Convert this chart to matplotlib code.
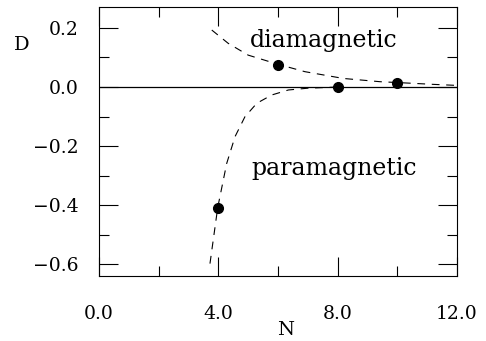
import numpy as np
import matplotlib
matplotlib.use("Agg")
import matplotlib.pyplot as plt
from matplotlib.ticker import MultipleLocator, FixedLocator

plt.rcParams['font.family'] = ['DejaVu Serif']

# measured points
n_pts = [4, 6, 8, 10]
d_pts = [-0.41, 0.076, 0.0, 0.015]

# dashed guide curves
dia_n = [3.78, 4.33, 5.0, 6.0, 6.9, 8.19, 9.42, 10.03, 11.2, 11.87, 12.0]
dia_d = [0.193, 0.148, 0.108, 0.077, 0.052, 0.029, 0.018, 0.015, 0.009, 0.006, 0.005]
para_n = [3.72, 3.98, 4.28, 4.56, 4.89, 5.29, 5.79, 6.35, 7.0, 8.0]
para_d = [-0.598, -0.408, -0.259, -0.168, -0.101, -0.055, -0.027, -0.010, -0.004, 0.0]

x_ticks = [0, 4, 8, 12]
x_labels = ["0.0", "4.0", "8.0", "12.0"]

fig = plt.figure(figsize=(4.86, 3.41), dpi=100)
ax = fig.add_axes([0.2037, 0.1906, 0.7366, 0.7889])

ax.axhline(0, color='black', lw=0.9)
ax.plot(dia_n, dia_d, color='black', lw=0.8, linestyle=(0, (7, 6)))
ax.plot(para_n, para_d, color='black', lw=0.8, linestyle=(0, (7, 6)))
ax.plot(n_pts, d_pts, 'o', color='black', markersize=7)

ax.set_xlim(0, 12)
ax.set_ylim(-0.64, 0.271)

ax.xaxis.set_major_locator(FixedLocator(x_ticks))
ax.set_xticklabels(x_labels)
ax.xaxis.set_minor_locator(MultipleLocator(2))
ax.yaxis.set_major_locator(MultipleLocator(0.2))
ax.yaxis.set_minor_locator(MultipleLocator(0.1))
ax.yaxis.set_major_formatter(plt.FuncFormatter(lambda v, p: "\u2212%.1f" % -v if v < -1e-9 else "%.1f" % abs(v)))

ax.tick_params(which='both', direction='in', top=True, right=True, width=0.8)
ax.tick_params(which='major', length=13.5)
ax.tick_params(which='minor', length=7)
ax.tick_params(axis='x', which='major', pad=21, labelsize=13.5)
ax.tick_params(axis='y', which='major', pad=15, labelsize=13.5)
for s in ax.spines.values():
    s.set_linewidth(0.8)

ax.text(5.05, 0.136, "diamagnetic", fontsize=17)
ax.text(5.1, -0.298, "paramagnetic", fontsize=17)

fig.text(22 / 486, 1 - 45 / 341, "D", fontsize=14, ha='center', va='center')
fig.text(286 / 486, 1 - 330 / 341, "N", fontsize=14, ha='center', va='center')

fig.savefig("out.png", dpi=100)
